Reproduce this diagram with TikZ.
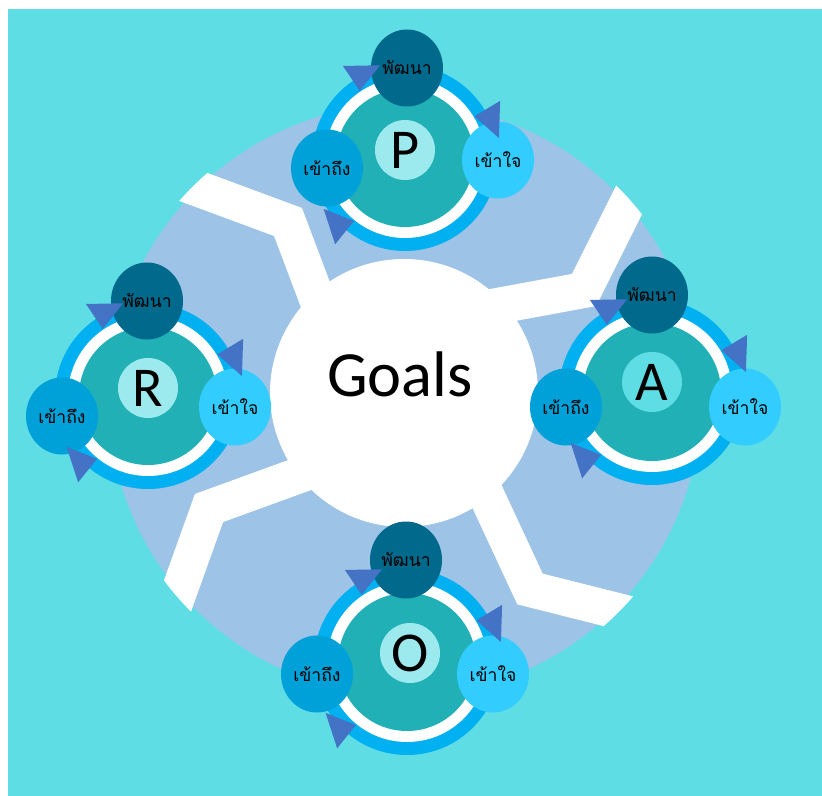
\documentclass[tikz,border=0pt]{standalone}
\usepackage{fontspec}
\setmainfont{Carlito}
\newfontfamily\thaifont[Script=Thai]{Loma}
\usetikzlibrary{shapes.geometric,calc}

\definecolor{BackColor}{RGB}{95,221,229}
\definecolor{DiscColor}{RGB}{157,195,230}
\definecolor{RingColor}{RGB}{0,176,240}
\definecolor{CoreColor}{RGB}{33,176,182}
\definecolor{LetterColor}{RGB}{157,234,238}
\definecolor{DevelopColor}{RGB}{0,105,140}
\definecolor{UnderstandColor}{RGB}{51,204,255}
\definecolor{ReachColor}{RGB}{0,160,216}
\definecolor{TipColor}{RGB}{68,114,196}

\tikzstyle{satellite}=[ellipse,
                       inner sep=0pt,
                       minimum width=2.16cm,
                       minimum height=2.31cm,
                       font=\thaifont\fontsize{15}{18}\selectfont
                      ]
\tikzstyle{develop}=[satellite, fill=DevelopColor]
\tikzstyle{understand}=[satellite, fill=UnderstandColor]
\tikzstyle{reach}=[satellite, fill=ReachColor]
\tikzstyle{letter}=[circle, inner sep=0pt, minimum size=1.8cm,
                    fill=LetterColor, font=\fontsize{48}{50}\selectfont]
\tikzstyle{band}=[draw=white, line width=1.08cm, line join=miter]
\tikzstyle{ringtip}=[fill=TipColor]

\newcommand{\ringcore}[1]{%
  \fill[RingColor] (#1) circle (93);
  \fill[white] (#1) circle (80);
  \fill[CoreColor] (#1) circle (69);}
\newcommand{\ringarrow}[2]{%
  \fill[ringtip] ($(#1)+(#2:81)$) -- ($(#1)+(#2:111)$) -- ($(#1)+(#2+19:96)$) -- cycle;}

\begin{document}
\begin{tikzpicture}[x=0.03cm, y=-0.03cm]
\useasboundingbox (0,0) rectangle (822,796);
\fill[BackColor] (8,9) rectangle (822,796);

\node at (405,400) (disc) [circle, fill=DiscColor, inner sep=0pt, minimum size=17.76cm] {};

\begin{scope}
\clip (405,400) circle (301);
\draw[band] (334,344) -- (288,222) -- (153,172);
\draw[band] (470,311) -- (584,290) -- (647,164);
\draw[band] (330,464) -- (209,508) -- (161,642);
\draw[band] (470,460) -- (530,589) -- (665,623);
\end{scope}

\node at (404,393) (goals) [circle, fill=white, inner sep=0pt, minimum size=8.04cm] {};
\node at (400,396) (goalstext) [anchor=base, font=\fontsize{55}{60}\selectfont] {Goals};

\coordinate (pc) at (405,158);
\ringcore{pc}
\node at (405,150) (pletter)      [letter]     {P};
\node at (407,68)  (pdevelop)     [develop]    {พัฒนา};
\node at (498,160) (punderstand)  [understand] {เข้าใจ};
\node at (327,168) (preach)       [reach]      {เข้าถึง};
\ringarrow{pc}{-124}
\ringarrow{pc}{-31}
\ringarrow{pc}{129}

\coordinate (rc) at (148,396);
\ringcore{rc}
\node at (148,388) (rletter)      [letter]     {R};
\node at (147,301) (rdevelop)     [develop]    {พัฒนา};
\node at (235,407) (runderstand)  [understand] {เข้าใจ};
\node at (62,416)  (rreach)       [reach]      {เข้าถึง};
\ringarrow{rc}{-124}
\ringarrow{rc}{-31}
\ringarrow{rc}{129}

\coordinate (ac) at (652,392);
\ringcore{ac}
\node at (652,382) (aletter)      [letter, fill=BackColor] {A};
\node at (652,295) (adevelop)     [develop]    {พัฒนา};
\node at (745,407) (aunderstand)  [understand] {เข้าใจ};
\node at (566,407) (areach)       [reach]      {เข้าถึง};
\ringarrow{ac}{-124}
\ringarrow{ac}{-31}
\ringarrow{ac}{129}

\coordinate (oc) at (407,662);
\ringcore{oc}
\node at (410,653) (oletter)      [letter]     {O};
\node at (406,560) (odevelop)     [develop]    {พัฒนา};
\node at (493,674) (ounderstand)  [understand] {เข้าใจ};
\node at (317,674) (oreach)       [reach]      {เข้าถึง};
\ringarrow{oc}{-124}
\ringarrow{oc}{-31}
\ringarrow{oc}{129}
\end{tikzpicture}
\end{document}
